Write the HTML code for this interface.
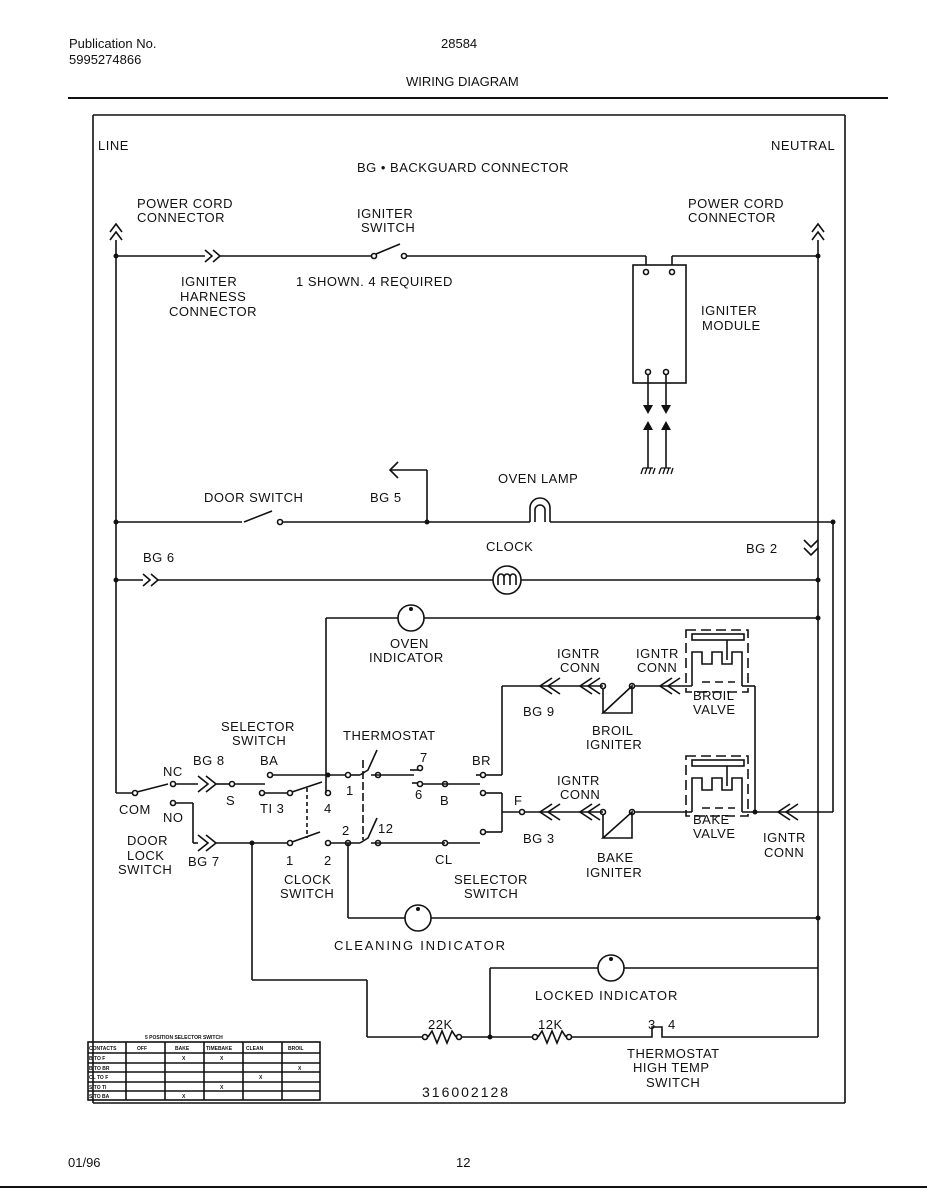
<!DOCTYPE html>
<html><head><meta charset="utf-8"><style>
body{margin:0;background:#fff}
svg{display:block}
text{font-family:"Liberation Sans",sans-serif;fill:#111}
.t{font-size:13px;letter-spacing:0.5px}
.h{font-size:13px}
</style></head><body>
<svg width="927" height="1200" viewBox="0 0 927 1200" xmlns="http://www.w3.org/2000/svg">
<g fill="none" stroke="#111" stroke-width="1.6">
<line x1="68" y1="98" x2="888" y2="98" stroke-width="2"/>
<line x1="0" y1="1187" x2="927" y2="1187" stroke-width="2"/>
<line x1="93" y1="115" x2="93" y2="1103"/>
<line x1="845" y1="115" x2="845" y2="1103"/>
<line x1="93" y1="115" x2="845" y2="115"/>
<line x1="93" y1="1103" x2="845" y2="1103"/>
<polyline points="110,232 116,224 122,232"/><polyline points="110,240 116,232 122,240"/>
<polyline points="812,232 818,224 824,232"/><polyline points="812,240 818,232 824,240"/>
<line x1="116" y1="240" x2="116" y2="780"/>
<line x1="818" y1="240" x2="818" y2="1037"/>
<line x1="833" y1="522" x2="833" y2="812"/>
<line x1="116" y1="256" x2="205" y2="256"/>
<polyline points="205,250 212,256 205,262"/><polyline points="213,250 220,256 213,262"/>
<line x1="220" y1="256" x2="372" y2="256"/>
<circle cx="374" cy="256" r="2.5"/><line x1="376" y1="254" x2="400" y2="244"/><circle cx="404" cy="256" r="2.5"/>
<line x1="406" y1="256" x2="646" y2="256"/><line x1="646" y1="256" x2="646" y2="265"/>
<line x1="672" y1="265" x2="672" y2="256"/><line x1="672" y1="256" x2="818" y2="256"/>
<rect x="633" y="265" width="53" height="118"/>
<circle cx="646" cy="272" r="2.5"/><circle cx="672" cy="272" r="2.5"/>
<circle cx="648" cy="372" r="2.5"/><circle cx="666" cy="372" r="2.5"/>
<line x1="648" y1="375" x2="648" y2="405"/><line x1="666" y1="375" x2="666" y2="405"/>
<line x1="648" y1="430" x2="648" y2="468"/><line x1="666" y1="430" x2="666" y2="468"/>
<path d="M643 468 H653 M643 468 L641 474 M647 468 L645 474 M651 468 L649 474 M655 468 L653 474 M661 468 H671 M661 468 L659 474 M665 468 L663 474 M669 468 L667 474 M673 468 L671 474" stroke-width="1.3"/>
<line x1="116" y1="522" x2="242" y2="522"/>
<line x1="244" y1="522" x2="272" y2="511"/><circle cx="280" cy="522" r="2.5"/>
<line x1="283" y1="522" x2="530" y2="522"/>
<line x1="550" y1="522" x2="833" y2="522"/>
<line x1="427" y1="522" x2="427" y2="470"/><line x1="427" y1="470" x2="390" y2="470"/>
<polyline points="398,462 390,470 398,478"/>
<path d="M530 522 V508 A10 10 0 0 1 550 508 V522"/>
<path d="M535 522 V510 A5 5 0 0 1 545 510 V522"/>
<polyline points="804,540 811,547 818,540"/><polyline points="804,548 811,555 818,548"/>
<line x1="116" y1="580" x2="143" y2="580"/>
<polyline points="143,574 150,580 143,586"/><polyline points="151,574 158,580 151,586"/>
<line x1="158" y1="580" x2="493" y2="580"/>
<circle cx="507" cy="580" r="14"/>
<path d="M498 585 V577 A3 3 0 0 1 504 577 V585 M504 577 A3 3 0 0 1 510 577 V585 M510 577 A3 3 0 0 1 516 577 V585"/>
<line x1="521" y1="580" x2="818" y2="580"/>
<line x1="326" y1="618" x2="398" y2="618"/>
<circle cx="411" cy="618" r="13"/>
<line x1="424" y1="618" x2="818" y2="618"/>
<line x1="326" y1="618" x2="326" y2="793"/>
<line x1="116" y1="780" x2="116" y2="793"/><line x1="116" y1="793" x2="133" y2="793"/>
<circle cx="135" cy="793" r="2.5"/><line x1="137" y1="792" x2="168" y2="784"/>
<circle cx="173" cy="784" r="2.5"/>
<line x1="176" y1="784" x2="198" y2="784"/>
<polyline points="198,776 208,784 198,792"/><polyline points="206,776 216,784 206,792"/>
<line x1="216" y1="784" x2="230" y2="784"/><circle cx="232" cy="784" r="2.5"/><line x1="235" y1="784" x2="265" y2="784"/>
<circle cx="173" cy="803" r="2.5"/><line x1="176" y1="803" x2="193" y2="803"/><line x1="193" y1="803" x2="193" y2="843"/>
<polyline points="198,835 208,843 198,851"/><polyline points="206,835 216,843 206,851"/>
<line x1="193" y1="843" x2="198" y2="843"/>
<line x1="216" y1="843" x2="288" y2="843"/>
<circle cx="290" cy="843" r="2.5"/><line x1="292" y1="842" x2="320" y2="832"/>
<circle cx="328" cy="843" r="2.5"/><line x1="331" y1="843" x2="360" y2="843"/>
<circle cx="348" cy="843" r="2.5"/>
<circle cx="270" cy="775" r="2.5"/><line x1="273" y1="775" x2="346" y2="775"/>
<circle cx="348" cy="775" r="2.5"/><line x1="351" y1="775" x2="360" y2="775"/>
<circle cx="262" cy="793" r="2.5"/><circle cx="290" cy="793" r="2.5"/>
<line x1="265" y1="793" x2="288" y2="793"/><line x1="292" y1="792" x2="322" y2="782"/>
<circle cx="328" cy="793" r="2.5"/>
<line x1="307" y1="788" x2="307" y2="838" stroke-dasharray="4,3"/>
<line x1="363" y1="760" x2="363" y2="840" stroke-dasharray="8,3"/>
<polyline points="360,775 368,770 377,750"/><polyline points="360,843 368,838 377,818"/>
<line x1="371" y1="775" x2="414" y2="775"/><circle cx="378" cy="775" r="2.5"/>
<line x1="371" y1="843" x2="445" y2="843"/><circle cx="378" cy="843" r="2.5"/>
<circle cx="420" cy="768" r="2.5"/><line x1="410" y1="770" x2="418" y2="770"/>
<circle cx="420" cy="784" r="2.5"/><line x1="412" y1="783" x2="418" y2="783"/>
<line x1="423" y1="784" x2="480" y2="784"/><circle cx="445" cy="784" r="2.5"/>
<circle cx="445" cy="843" r="2.5"/><line x1="448" y1="843" x2="480" y2="843"/>
<circle cx="483" cy="775" r="2.5"/><line x1="476" y1="775" x2="480" y2="775"/><line x1="486" y1="775" x2="502" y2="775"/>
<circle cx="483" cy="793" r="2.5"/><line x1="486" y1="793" x2="502" y2="793"/>
<circle cx="483" cy="832" r="2.5"/><line x1="486" y1="832" x2="502" y2="832"/>
<line x1="502" y1="775" x2="502" y2="686"/>
<line x1="502" y1="793" x2="502" y2="832"/>
<line x1="502" y1="812" x2="520" y2="812"/><circle cx="522" cy="812" r="2.5"/>
<line x1="502" y1="686" x2="603" y2="686"/>
<polyline points="552,678 540,686 552,694"/><polyline points="560,678 548,686 560,694"/>
<polyline points="592,678 580,686 592,694"/><polyline points="600,678 588,686 600,694"/>
<circle cx="603" cy="686" r="2.5"/>
<line x1="603" y1="688" x2="603" y2="713"/>
<polygon points="603,713 632,713 632,686"/>
<circle cx="632" cy="686" r="2.5"/>
<line x1="635" y1="686" x2="692" y2="686"/>
<polyline points="672,678 660,686 672,694"/><polyline points="680,678 668,686 680,694"/>
<line x1="692" y1="686" x2="692" y2="670"/>
<line x1="742" y1="670" x2="742" y2="686"/><line x1="742" y1="686" x2="755" y2="686"/>
<line x1="755" y1="686" x2="755" y2="812"/>
<rect x="686" y="630" width="62" height="62" stroke-dasharray="10,5"/>
<polyline points="692,670 692,652 702,652 702,664 712,664 712,652 722,652 722,664 732,664 732,652 742,652 742,670"/>
<line x1="702" y1="682" x2="735" y2="682" stroke-dasharray="8,5"/>
<rect x="692" y="634" width="52" height="6"/><line x1="727" y1="640" x2="727" y2="660"/>
<line x1="524" y1="812" x2="603" y2="812"/>
<polyline points="552,804 540,812 552,820"/><polyline points="560,804 548,812 560,820"/>
<polyline points="592,804 580,812 592,820"/><polyline points="600,804 588,812 600,820"/>
<circle cx="603" cy="812" r="2.5"/>
<line x1="603" y1="814" x2="603" y2="838"/>
<polygon points="603,838 632,838 632,812"/>
<circle cx="632" cy="812" r="2.5"/>
<line x1="635" y1="812" x2="692" y2="812"/>
<line x1="692" y1="812" x2="692" y2="796"/>
<line x1="742" y1="796" x2="742" y2="812"/><line x1="742" y1="812" x2="833" y2="812"/>
<rect x="686" y="756" width="62" height="60" stroke-dasharray="10,5"/>
<polyline points="692,796 692,778 702,778 702,790 712,790 712,778 722,778 722,790 732,790 732,778 742,778 742,796"/>
<line x1="702" y1="808" x2="735" y2="808" stroke-dasharray="8,5"/>
<rect x="692" y="760" width="52" height="6"/><line x1="727" y1="766" x2="727" y2="786"/>
<polyline points="790,804 778,812 790,820"/><polyline points="798,804 786,812 798,820"/>
<line x1="348" y1="843" x2="348" y2="918"/><line x1="348" y1="918" x2="405" y2="918"/>
<circle cx="418" cy="918" r="13"/>
<line x1="431" y1="918" x2="818" y2="918"/>
<line x1="252" y1="843" x2="252" y2="980"/><line x1="252" y1="980" x2="367" y2="980"/>
<line x1="367" y1="980" x2="367" y2="1037"/>
<line x1="490" y1="968" x2="490" y2="1037"/>
<line x1="490" y1="968" x2="598" y2="968"/>
<circle cx="611" cy="968" r="13"/>
<line x1="624" y1="968" x2="818" y2="968"/>
<line x1="367" y1="1037" x2="422" y2="1037"/>
<circle cx="425" cy="1037" r="2.5"/><circle cx="459" cy="1037" r="2.5"/>
<polyline points="428,1037 432,1031 437,1043 442,1031 447,1043 452,1031 456,1037"/>
<line x1="462" y1="1037" x2="532" y2="1037"/>
<circle cx="535" cy="1037" r="2.5"/><circle cx="569" cy="1037" r="2.5"/>
<polyline points="538,1037 542,1031 547,1043 552,1031 557,1043 562,1031 566,1037"/>
<line x1="572" y1="1037" x2="646" y2="1037"/>
<polyline points="646,1037 652,1037 652,1027 662,1027 662,1037 818,1037"/>
<rect x="88" y="1042" width="232" height="58"/>
<line x1="88" y1="1053" x2="320" y2="1053"/><line x1="88" y1="1063" x2="320" y2="1063"/>
<line x1="88" y1="1072" x2="320" y2="1072"/><line x1="88" y1="1082" x2="320" y2="1082"/><line x1="88" y1="1091" x2="320" y2="1091"/>
<line x1="126" y1="1042" x2="126" y2="1100"/><line x1="165" y1="1042" x2="165" y2="1100"/>
<line x1="204" y1="1042" x2="204" y2="1100"/><line x1="243" y1="1042" x2="243" y2="1100"/><line x1="282" y1="1042" x2="282" y2="1100"/>
</g>
<g fill="#111">
<circle cx="116" cy="256" r="2.5"/><circle cx="818" cy="256" r="2.5"/>
<circle cx="116" cy="522" r="2.5"/><circle cx="427" cy="522" r="2.5"/><circle cx="833" cy="522" r="2.5"/>
<circle cx="116" cy="580" r="2.5"/><circle cx="818" cy="580" r="2.5"/><circle cx="818" cy="618" r="2.5"/>
<circle cx="328" cy="775" r="2.5"/><circle cx="252" cy="843" r="2.5"/><circle cx="755" cy="812" r="2.5"/>
<circle cx="818" cy="918" r="2.5"/><circle cx="490" cy="1037" r="2.5"/>
<polygon points="643,405 653,405 648,414"/><polygon points="661,405 671,405 666,414"/>
<polygon points="643,430 653,430 648,421"/><polygon points="661,430 671,430 666,421"/>
<circle cx="411" cy="609" r="2"/><circle cx="418" cy="909" r="2"/><circle cx="611" cy="959" r="2"/>
</g>
<text x="69" y="48" class="h">Publication No.</text>
<text x="69" y="64" class="h">5995274866</text>
<text x="441" y="48" class="h">28584</text>
<text x="406" y="86" class="h">WIRING DIAGRAM</text>
<text x="98" y="150" class="t">LINE</text>
<text x="771" y="150" class="t">NEUTRAL</text>
<text x="357" y="172" class="t">BG • BACKGUARD CONNECTOR</text>
<text x="137" y="208" class="t">POWER CORD</text><text x="137" y="222" class="t">CONNECTOR</text>
<text x="688" y="208" class="t">POWER CORD</text><text x="688" y="222" class="t">CONNECTOR</text>
<text x="357" y="218" class="t">IGNITER</text><text x="361" y="232" class="t">SWITCH</text>
<text x="181" y="286" class="t">IGNITER</text><text x="180" y="301" class="t">HARNESS</text><text x="169" y="316" class="t">CONNECTOR</text>
<text x="296" y="286" class="t">1 SHOWN. 4 REQUIRED</text>
<text x="701" y="315" class="t">IGNITER</text><text x="702" y="330" class="t">MODULE</text>
<text x="498" y="483" class="t">OVEN LAMP</text>
<text x="204" y="502" class="t">DOOR SWITCH</text>
<text x="370" y="502" class="t">BG 5</text>
<text x="486" y="551" class="t">CLOCK</text>
<text x="143" y="562" class="t">BG 6</text>
<text x="746" y="553" class="t">BG 2</text>
<text x="390" y="648" class="t">OVEN</text><text x="369" y="662" class="t">INDICATOR</text>
<text x="557" y="658" class="t">IGNTR</text><text x="560" y="672" class="t">CONN</text>
<text x="636" y="658" class="t">IGNTR</text><text x="637" y="672" class="t">CONN</text>
<text x="523" y="716" class="t">BG 9</text>
<text x="693" y="700" class="t">BROIL</text><text x="693" y="714" class="t">VALVE</text>
<text x="592" y="735" class="t">BROIL</text><text x="586" y="749" class="t">IGNITER</text>
<text x="221" y="731" class="t">SELECTOR</text><text x="232" y="745" class="t">SWITCH</text>
<text x="343" y="740" class="t">THERMOSTAT</text>
<text x="163" y="776" class="t">NC</text><text x="193" y="765" class="t">BG 8</text><text x="260" y="765" class="t">BA</text>
<text x="420" y="762" class="t">7</text><text x="472" y="765" class="t">BR</text>
<text x="346" y="795" class="t">1</text><text x="415" y="799" class="t">6</text><text x="440" y="805" class="t">B</text>
<text x="226" y="805" class="t">S</text><text x="260" y="813" class="t">TI 3</text><text x="324" y="813" class="t">4</text>
<text x="119" y="814" class="t">COM</text><text x="163" y="822" class="t">NO</text>
<text x="514" y="805" class="t">F</text>
<text x="557" y="785" class="t">IGNTR</text><text x="560" y="799" class="t">CONN</text>
<text x="693" y="824" class="t">BAKE</text><text x="693" y="838" class="t">VALVE</text>
<text x="523" y="843" class="t">BG 3</text>
<text x="342" y="835" class="t">2</text><text x="378" y="833" class="t">12</text>
<text x="127" y="845" class="t">DOOR</text><text x="127" y="860" class="t">LOCK</text><text x="118" y="874" class="t">SWITCH</text>
<text x="188" y="866" class="t">BG 7</text>
<text x="286" y="865" class="t">1</text><text x="324" y="865" class="t">2</text>
<text x="435" y="864" class="t">CL</text>
<text x="763" y="842" class="t">IGNTR</text><text x="764" y="857" class="t">CONN</text>
<text x="597" y="862" class="t">BAKE</text><text x="586" y="877" class="t">IGNITER</text>
<text x="284" y="884" class="t">CLOCK</text><text x="280" y="898" class="t">SWITCH</text>
<text x="454" y="884" class="t">SELECTOR</text><text x="464" y="898" class="t">SWITCH</text>
<text x="334" y="950" class="t" style="letter-spacing:1.8px">CLEANING INDICATOR</text>
<text x="535" y="1000" class="t" style="letter-spacing:1px">LOCKED INDICATOR</text>
<text x="428" y="1029" class="t">22K</text><text x="538" y="1029" class="t">12K</text>
<text x="648" y="1029" class="t">3</text><text x="668" y="1029" class="t">4</text>
<text x="627" y="1058" class="t">THERMOSTAT</text><text x="633" y="1072" class="t">HIGH TEMP</text><text x="646" y="1087" class="t">SWITCH</text>
<text x="422" y="1097" class="t" style="font-size:14px;letter-spacing:2px">316002128</text>
<text x="145" y="1039" style="font-size:5px;font-weight:bold">5 POSITION SELECTOR SWITCH</text>
<g style="font-size:5px;font-weight:bold">
<text x="89" y="1050">CONTACTS</text><text x="137" y="1050">OFF</text><text x="175" y="1050">BAKE</text><text x="206" y="1050">TIMEBAKE</text><text x="246" y="1050">CLEAN</text><text x="288" y="1050">BROIL</text>
<text x="89" y="1060">B TO F</text><text x="89" y="1070">B TO BR</text><text x="89" y="1079">CL TO F</text><text x="89" y="1089">S TO TI</text><text x="89" y="1098">S TO BA</text>
<text x="182" y="1060">X</text><text x="220" y="1060">X</text><text x="298" y="1070">X</text><text x="259" y="1079">X</text><text x="220" y="1089">X</text><text x="182" y="1098">X</text>
</g>
<text x="68" y="1167" class="h">01/96</text>
<text x="456" y="1167" class="h">12</text>
</svg>
</body></html>
